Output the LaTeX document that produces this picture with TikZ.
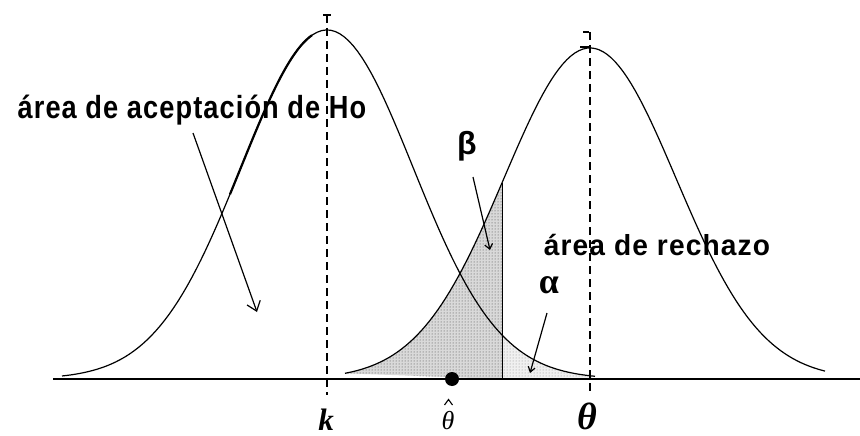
\documentclass[tikz,border=0pt]{standalone}
\usepackage{fontspec}
\setmainfont{Liberation Sans}
\newfontfamily\serifb{Liberation Serif}
\newfontfamily\condf{Liberation Sans}[LetterSpace=4]
\usetikzlibrary{patterns,arrows.meta}
\begin{document}
\begin{tikzpicture}[x=1pt,y=-1pt,
  curve/.style={line width=1.2pt},
  guide/.style={line width=1.5pt,dash pattern=on 8pt off 5pt},
  lbl/.style={font=\condf\bfseries\fontsize{32}{34}\selectfont,inner sep=0pt,xscale=0.85},
  lblb/.style={font=\condf\bfseries\fontsize{29}{31}\selectfont,inner sep=0pt,xscale=0.97},
  ptr/.style={line width=1.2pt},
  sym/.style={inner sep=0pt}]
\useasboundingbox (0,0) rectangle (860,436);
% shaded regions
\fill[gray!30] plot[domain=345:502,samples=60] (\x,{379-331*exp(-0.5*((\x-590)/86)^2)}) -- (502,379) -- cycle;
\fill[pattern=dots,pattern color=black!75] plot[domain=345:502,samples=60] (\x,{379-331*exp(-0.5*((\x-590)/86)^2)}) -- (502,379) -- cycle;
\fill[gray!12] plot[domain=502:592,samples=40] (\x,{379-349*exp(-0.5*((\x-327)/86)^2)}) -- (592,379) -- (502,379) -- cycle;
\fill[pattern=dots,pattern color=black!45] plot[domain=502:592,samples=40] (\x,{379-349*exp(-0.5*((\x-327)/86)^2)}) -- (592,379) -- (502,379) -- cycle;
\draw[line width=1pt] (502,379) -- (502,183);
% curves
\draw[curve] plot[domain=62:595,samples=120] (\x,{379-349*exp(-0.5*((\x-327)/86)^2)});
\draw[line width=2.2pt] plot[domain=230:312,samples=30] (\x,{379-349*exp(-0.5*((\x-327)/86)^2)});
\draw[curve] plot[domain=345:825,samples=120] (\x,{379-331*exp(-0.5*((\x-590)/86)^2)});
% axis
\draw[line width=2pt] (53,379) -- (860,379);
% guides
\draw[guide] (327,15) -- (327,395);
\draw[line width=1.2pt] (323,15) -- (331,15);
\draw[guide] (590,32) -- (590,393);
\draw[line width=1.2pt] (583,32) -- (589,32);
\draw[line width=1.2pt] (580,47) -- (590,47);
% point
\fill (452,379) circle (7);
% labels
\node[lbl,anchor=base] (acc) at (192,118) {área de aceptación de Ho};
\node[lblb,anchor=base] (rech) at (657,255) {área de rechazo};
\node[sym,font=\bfseries\fontsize{32}{34}\selectfont] (bt) at (467,146) {β};
\node[sym,font=\serifb\bfseries\fontsize{36}{38}\selectfont] (al) at (549,285) {α};
\node[sym,font=\serifb\bfseries\itshape\fontsize{31}{33}\selectfont] (kk) at (326,420) {k};
\node[sym,font=\serifb\itshape\fontsize{26}{28}\selectfont,anchor=base] (thh) at (448,429) {θ};
\draw[line width=1.1pt] (444.5,405) -- (448.5,399.5) -- (452.5,405);
\node[sym,font=\serifb\bfseries\itshape\fontsize{38}{40}\selectfont] (th) at (587,416) {θ};
% pointers
\coordinate (a1) at (193,133);
\coordinate (a2) at (257,312);
\draw[ptr,-{Straight Barb[length=9pt,width=14pt]}] (a1) -- (a2);
\coordinate (b1) at (473,177);
\coordinate (b2) at (490,250);
\draw[ptr,-{Straight Barb[length=5pt,width=8pt]}] (b1) -- (b2);
\coordinate (c1) at (547,313);
\coordinate (c2) at (530,373);
\draw[ptr,-{Straight Barb[length=5pt,width=7pt]}] (c1) -- (c2);
\end{tikzpicture}
\end{document}
